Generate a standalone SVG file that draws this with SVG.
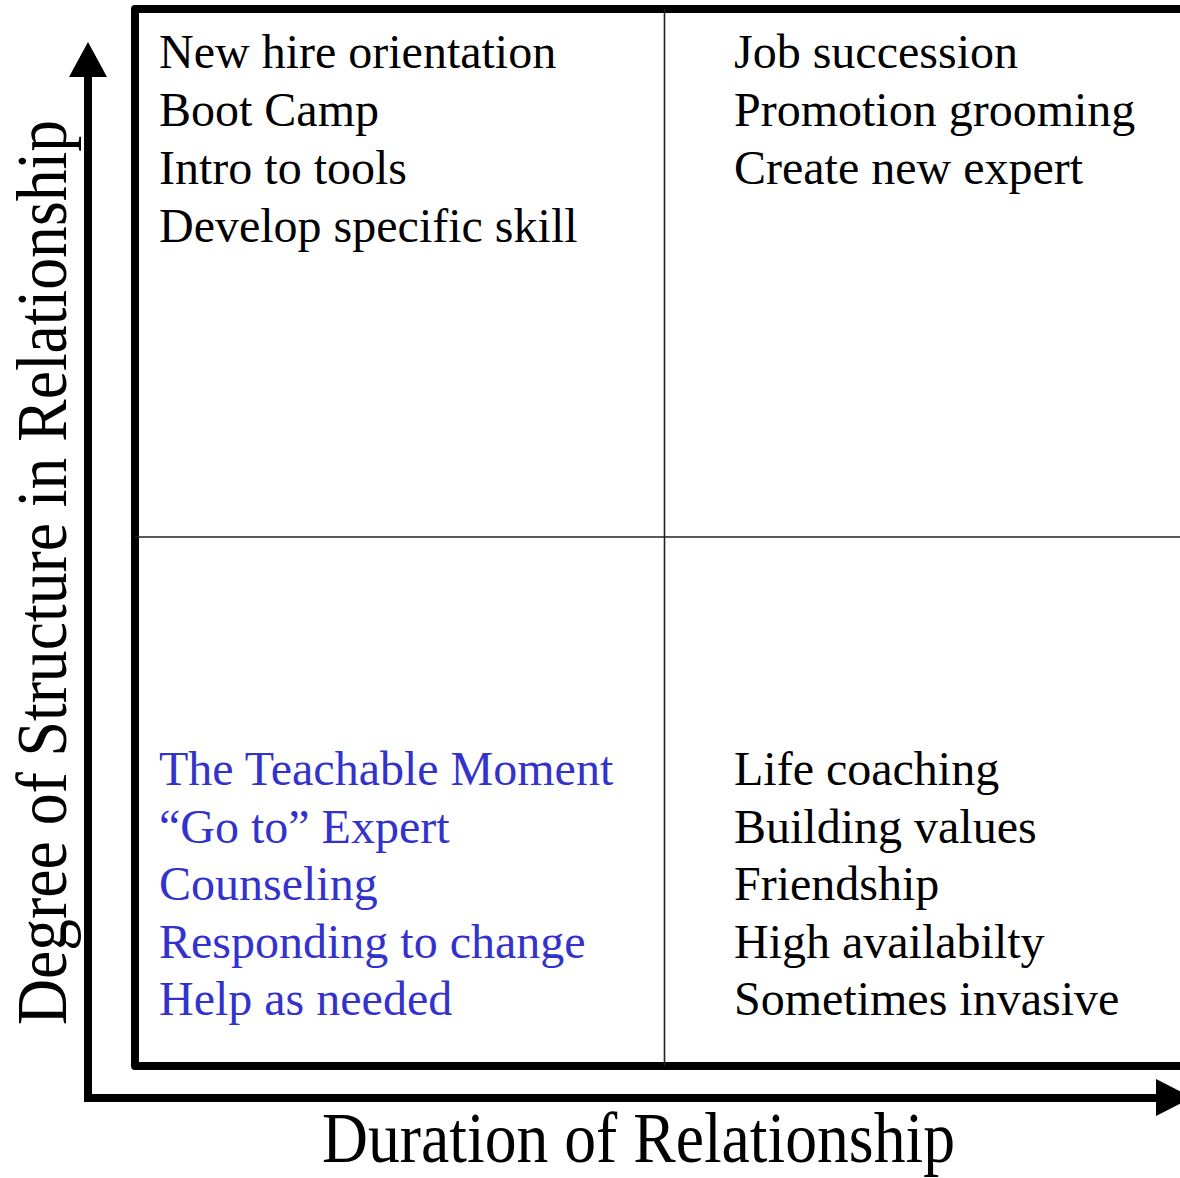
<svg xmlns="http://www.w3.org/2000/svg" width="1180" height="1178" viewBox="0 0 1180 1178">
<style>
.t{font-family:"Liberation Serif","Times New Roman",serif;font-size:48px;fill:#000}
.b{fill:#3333cc}
.ax{font-family:"Liberation Serif","Times New Roman",serif;font-size:72px;fill:#000}
.grid{stroke:#222;stroke-width:1.6;fill:none}
</style>
<rect width="1180" height="1178" fill="#fff"/>
<g id="frame">
<path d="M1192,9 H135 V1066 H1192" fill="none" stroke="#000" stroke-width="8" stroke-linejoin="round"/>
<line class="grid" x1="664.5" y1="9" x2="664.5" y2="1066"/>
<line class="grid" x1="135" y1="537" x2="1180" y2="537" stroke-width="2"/>
</g>
<g id="connectors">
<path d="M88,72 V1098 H1160" fill="none" stroke="#000" stroke-width="8" stroke-linejoin="miter"/>
<polygon points="88,42 69,77 107,77" fill="#000"/>
<polygon points="1192,1097.5 1156,1079 1156,1116" fill="#000"/>
</g>
<g id="q-top-left">
<text class="t" x="159" y="68">New hire orientation</text>
<text class="t" x="159" y="126">Boot Camp</text>
<text class="t" x="159" y="184">Intro to tools</text>
<text class="t" x="159" y="242">Develop specific skill</text>
</g>
<g id="q-top-right">
<text class="t" x="734" y="68">Job succession</text>
<text class="t" x="734" y="126">Promotion grooming</text>
<text class="t" x="734" y="184">Create new expert</text>
</g>
<g id="q-bottom-left">
<text class="t b" x="159" y="785">The Teachable Moment</text>
<text class="t b" x="159" y="842.5">“Go to” Expert</text>
<text class="t b" x="159" y="900">Counseling</text>
<text class="t b" x="159" y="957.5">Responding to change</text>
<text class="t b" x="159" y="1015">Help as needed</text>
</g>
<g id="q-bottom-right">
<text class="t" x="734" y="785">Life coaching</text>
<text class="t" x="734" y="842.5">Building values</text>
<text class="t" x="734" y="900">Friendship</text>
<text class="t" x="734" y="957.5">High availabilty</text>
<text class="t" x="734" y="1015">Sometimes invasive</text>
</g>
<g id="x-label">
<text class="ax" x="322" y="1162" textLength="633" lengthAdjust="spacingAndGlyphs">Duration of Relationship</text>
</g>
<g id="y-label">
<text class="ax" transform="translate(66,1025) rotate(-90)" x="0" y="0" textLength="905" lengthAdjust="spacingAndGlyphs">Degree of Structure in Relationship</text>
</g>
</svg>
